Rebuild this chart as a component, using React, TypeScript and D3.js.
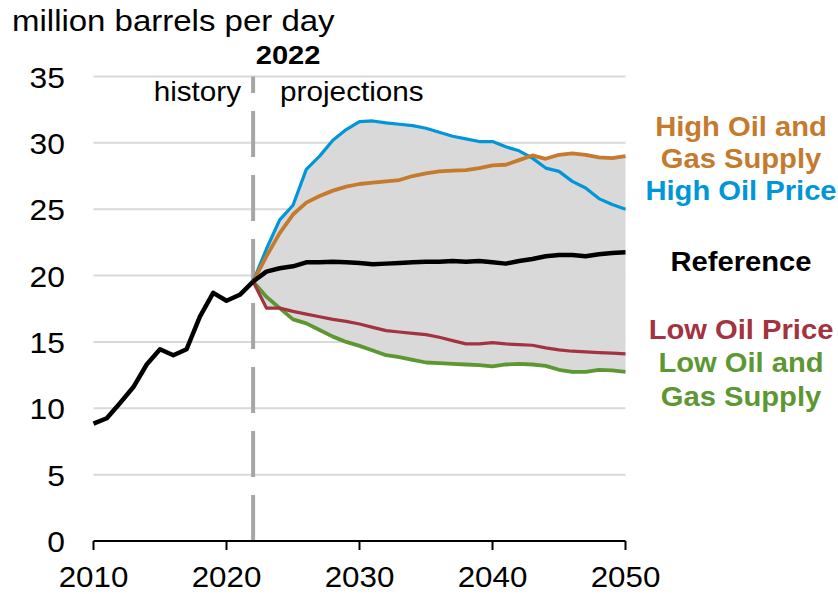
import React from "react";
import * as d3 from "d3";

const histYears = [2010, 2011, 2012, 2013, 2014, 2015, 2016, 2017, 2018, 2019, 2020, 2021, 2022];
const histValues = [8.85, 9.25, 10.4, 11.6, 13.3, 14.45, 14.0, 14.45, 16.9, 18.7, 18.1, 18.55, 19.55];

const projYears = [2022, 2023, 2024, 2025, 2026, 2027, 2028, 2029, 2030, 2031, 2032, 2033, 2034, 2035, 2036,
  2037, 2038, 2039, 2040, 2041, 2042, 2043, 2044, 2045, 2046, 2047, 2048, 2049, 2050];

const reference = [19.55, 20.3, 20.55, 20.7, 21.0, 21.0, 21.05, 21.0, 20.95, 20.85, 20.9, 20.95, 21.0, 21.05, 21.05,
  21.1, 21.05, 21.1, 21.0, 20.9, 21.1, 21.25, 21.45, 21.55, 21.55, 21.45, 21.6, 21.7, 21.75];
const highOilPrice = [19.55, 22.0, 24.2, 25.3, 28.0, 29.0, 30.2, 31.0, 31.6, 31.65, 31.5, 31.4, 31.3, 31.1, 30.8,
  30.5, 30.3, 30.1, 30.1, 29.7, 29.4, 28.85, 28.1, 27.85, 27.1, 26.6, 25.8, 25.35, 25.0];
const highSupply = [19.55, 21.45, 23.2, 24.6, 25.5, 26.0, 26.4, 26.7, 26.9, 27.0, 27.1, 27.2, 27.5, 27.7, 27.85,
  27.9, 27.95, 28.1, 28.3, 28.35, 28.7, 29.05, 28.8, 29.1, 29.2, 29.1, 28.9, 28.85, 29.0];
const lowOilPrice = [19.55, 17.55, 17.55, 17.3, 17.1, 16.9, 16.7, 16.55, 16.35, 16.1, 15.85, 15.75, 15.65, 15.55, 15.35,
  15.1, 14.85, 14.85, 14.95, 14.85, 14.8, 14.75, 14.55, 14.4, 14.3, 14.25, 14.2, 14.15, 14.1];
const lowSupply = [19.55, 18.4, 17.55, 16.7, 16.4, 15.9, 15.4, 15.0, 14.7, 14.35, 14.0, 13.85, 13.65, 13.45, 13.4,
  13.35, 13.3, 13.25, 13.15, 13.3, 13.35, 13.3, 13.2, 12.9, 12.75, 12.75, 12.9, 12.85, 12.75];

const yTicks = [0, 5, 10, 15, 20, 25, 30, 35];
const xTicks = [2010, 2020, 2030, 2040, 2050];

const COLORS = {
  ref: "#000000",
  highPrice: "#0096d7",
  highSupply: "#c67a2e",
  lowPrice: "#a33340",
  lowSupply: "#5d9732",
};

function T(props: { x: number; y: number; sx?: number; size: number; anchor?: string; bold?: boolean; fill?: string; children: React.ReactNode }) {
  const { x, y, sx = 1.08, size, anchor = "start", bold = false, fill = "#000", children } = props;
  return (
    <text transform={`translate(${x},${y}) scale(${sx},1)`} textAnchor={anchor as any} fontSize={size}
      fontWeight={bold ? "bold" : "normal"} fill={fill}>{children}</text>
  );
}

export default function App() {
  const W = 838, H = 594;
  const x = d3.scaleLinear().domain([2010, 2050]).range([93.5, 625.5]);
  const y = d3.scaleLinear().domain([0, 35]).range([541, 76.5]);

  const line = d3.line<[number, number]>().x(d => x(d[0])).y(d => y(d[1]));
  const zip = (ys: number[], vs: number[]) => ys.map((yr, i) => [yr, vs[i]] as [number, number]);

  const allProj = [reference, highOilPrice, highSupply, lowOilPrice, lowSupply];
  const band = projYears.map((yr, i) => ({
    yr,
    hi: d3.max(allProj, s => s[i]) as number,
    lo: d3.min(allProj, s => s[i]) as number,
  }));
  const area = d3.area<{ yr: number; hi: number; lo: number }>()
    .x(d => x(d.yr)).y0(d => y(d.lo)).y1(d => y(d.hi));

  const font = "Liberation Sans, Arial, sans-serif";
  const x2022 = x(2022);

  const labels = [
    { t: "High Oil and", y: 136, c: COLORS.highSupply },
    { t: "Gas Supply", y: 168, c: COLORS.highSupply },
    { t: "High Oil Price", y: 200, c: COLORS.highPrice },
    { t: "Reference", y: 271, c: COLORS.ref },
    { t: "Low Oil Price", y: 339, c: COLORS.lowPrice },
    { t: "Low Oil and", y: 372, c: COLORS.lowSupply },
    { t: "Gas Supply", y: 406, c: COLORS.lowSupply },
  ];

  return (
    <svg width={W} height={H} style={{ position: "absolute", left: 0, top: 0, background: "#fff" }}
      fontFamily={font}>
      {yTicks.filter(v => v > 0).map(v => (
        <line key={v} x1={x(2010)} x2={x(2050)} y1={y(v)} y2={y(v)} stroke="#d9d9d9" strokeWidth={2} />
      ))}
      <path d={area(band) || ""} fill="#d9d9d9" />
      <line x1={x2022} x2={x2022} y1={y(0)} y2={y(35)} stroke="#a6a6a6" strokeWidth={4}
        strokeDasharray="46,18" />
      <line x1={x(2010)} x2={x(2050)} y1={y(0)} y2={y(0)} stroke="#000" strokeWidth={2} />
      {xTicks.map(v => (
        <g key={v}>
          <line x1={x(v)} x2={x(v)} y1={y(0)} y2={y(0) + 9} stroke="#000" strokeWidth={2} />
          <T x={x(v)} y={587} anchor="middle" size={29} sx={1.08}>{v}</T>
        </g>
      ))}
      {yTicks.map(v => (
        <T key={v} x={65} y={y(v) + 11} anchor="end" size={30} sx={1.06}>{v}</T>
      ))}
      <T x={12} y={31} size={30} sx={1.1}>million barrels per day</T>
      <T x={x2022 + 35} y={64} size={26} sx={1.12} bold anchor="middle">2022</T>
      <T x={x2022 - 12} y={101} size={27} sx={1.1} anchor="end">history</T>
      <T x={x2022 + 27} y={101} size={27} sx={1.1}>projections</T>

      <path d={line(zip(projYears, lowSupply)) || ""} fill="none" stroke={COLORS.lowSupply} strokeWidth={3.8} strokeLinejoin="round" />
      <path d={line(zip(projYears, lowOilPrice)) || ""} fill="none" stroke={COLORS.lowPrice} strokeWidth={3.2} strokeLinejoin="round" />
      <path d={line(zip(projYears, highOilPrice)) || ""} fill="none" stroke={COLORS.highPrice} strokeWidth={3.2} strokeLinejoin="round" />
      <path d={line(zip(projYears, highSupply)) || ""} fill="none" stroke={COLORS.highSupply} strokeWidth={3.8} strokeLinejoin="round" />
      <path d={line(zip(histYears, histValues)) || ""} fill="none" stroke={COLORS.ref} strokeWidth={4.5} strokeLinejoin="round" />
      <path d={line(zip(projYears, reference)) || ""} fill="none" stroke={COLORS.ref} strokeWidth={4.5} strokeLinejoin="round" />

      {labels.map((l, i) => (
        <T key={i} x={741} y={l.y} anchor="middle" size={27} sx={1.08} bold fill={l.c}>{l.t}</T>
      ))}
    </svg>
  );
}
